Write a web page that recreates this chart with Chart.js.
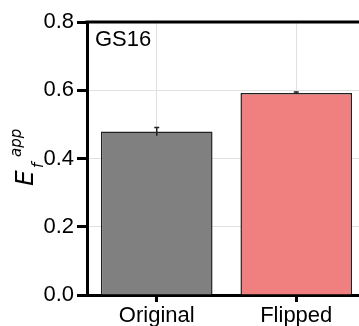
<!DOCTYPE html>
<html>
<head>
<meta charset="utf-8">
<script src="https://cdn.jsdelivr.net/npm/chart.js@4"></script>
<style>
  html, body { margin: 0; padding: 0; background: #fff; overflow: hidden; }
  #wrap { width: 380px; height: 326px; }
</style>
</head>
<body>
<div id="wrap"><canvas id="barChart" width="380" height="326"></canvas></div>
<script>
// data
const categories = ["Original", "Flipped"];
const values = [0.479, 0.592];
const errors = [0.012, 0.003];
const barColors = ["#808080", "#F08080"];
const yTicks = [0.0, 0.2, 0.4, 0.6, 0.8];
const panelLabel = "GS16";

const frame = {
    id: "frame",
    afterDraw(chart) {
        const { ctx, chartArea: a, scales } = chart;
        ctx.save();
        // error bars
        ctx.strokeStyle = "#222";
        ctx.lineWidth = 1.5;
        values.forEach((v, i) => {
            const x = scales.x.getPixelForValue(i);
            const yTop = scales.y.getPixelForValue(v + errors[i]);
            const yBot = scales.y.getPixelForValue(v - errors[i]);
            ctx.beginPath();
            ctx.moveTo(x, yTop); ctx.lineTo(x, yBot);
            ctx.moveTo(x - 2.5, yTop); ctx.lineTo(x + 2.5, yTop);
            ctx.stroke();
        });
        // top line of the frame
        ctx.strokeStyle = "#000";
        ctx.lineWidth = 3;
        ctx.beginPath();
        ctx.moveTo(a.left - 1.5, a.top);
        ctx.lineTo(chart.width, a.top);
        ctx.stroke();
        // panel label
        ctx.fillStyle = "#000";
        ctx.font = "22px 'Liberation Sans', Arial, sans-serif";
        ctx.textBaseline = "alphabetic";
        ctx.fillText(panelLabel, a.left + 8, a.top + 24);
        // y axis title E_f^app
        ctx.translate(33, 186);
        ctx.rotate(-Math.PI / 2);
        ctx.font = "italic 25px 'DejaVu Sans', sans-serif";
        ctx.fillText("E", 0, 0);
        ctx.font = "italic 15px 'DejaVu Sans', sans-serif";
        ctx.fillText("f", 18, 10);
        ctx.fillText("app", 29, -12);
        ctx.restore();
    }
};

new Chart(document.getElementById("barChart"), {
    type: "bar",
    data: {
        labels: categories,
        datasets: [
            {
                data: values,
                backgroundColor: barColors,
                borderColor: "#222",
                borderWidth: 1.5,
                barPercentage: 0.8,
                categoryPercentage: 1
            }
        ]
    },
    options: {
        responsive: false,
        animation: false,
        layout: { padding: { top: 22, right: 14, left: 0, bottom: 0 } },
        plugins: {
            legend: { display: false },
            tooltip: { enabled: false }
        },
        scales: {
            x: {
                offset: true,
                grid: {
                    offset: false,
                    color: "#e0e0e0",
                    lineWidth: 1,
                    tickColor: "#000",
                    tickWidth: 3,
                    tickLength: 7
                },
                border: { color: "#000", width: 3 },
                ticks: {
                    color: "#000",
                    padding: 1,
                    font: { family: "'Liberation Sans', Arial, sans-serif", size: 22 }
                },
                afterFit(scale) { scale.height = 31; }
            },
            y: {
                min: 0,
                max: 0.8,
                afterBuildTicks(scale) {
                    scale.ticks = yTicks.map(v => ({ value: v }));
                },
                grid: {
                    color: "#e0e0e0",
                    lineWidth: 1,
                    tickColor: "#000",
                    tickWidth: 3,
                    tickLength: 10
                },
                border: { color: "#000", width: 3 },
                ticks: {
                    color: "#000",
                    padding: 3,
                    font: { family: "'Liberation Sans', Arial, sans-serif", size: 22 },
                    callback: v => v.toFixed(1)
                },
                afterFit(scale) { scale.width = 87; }
            }
        }
    },
    plugins: [frame]
});
</script>
</body>
</html>
